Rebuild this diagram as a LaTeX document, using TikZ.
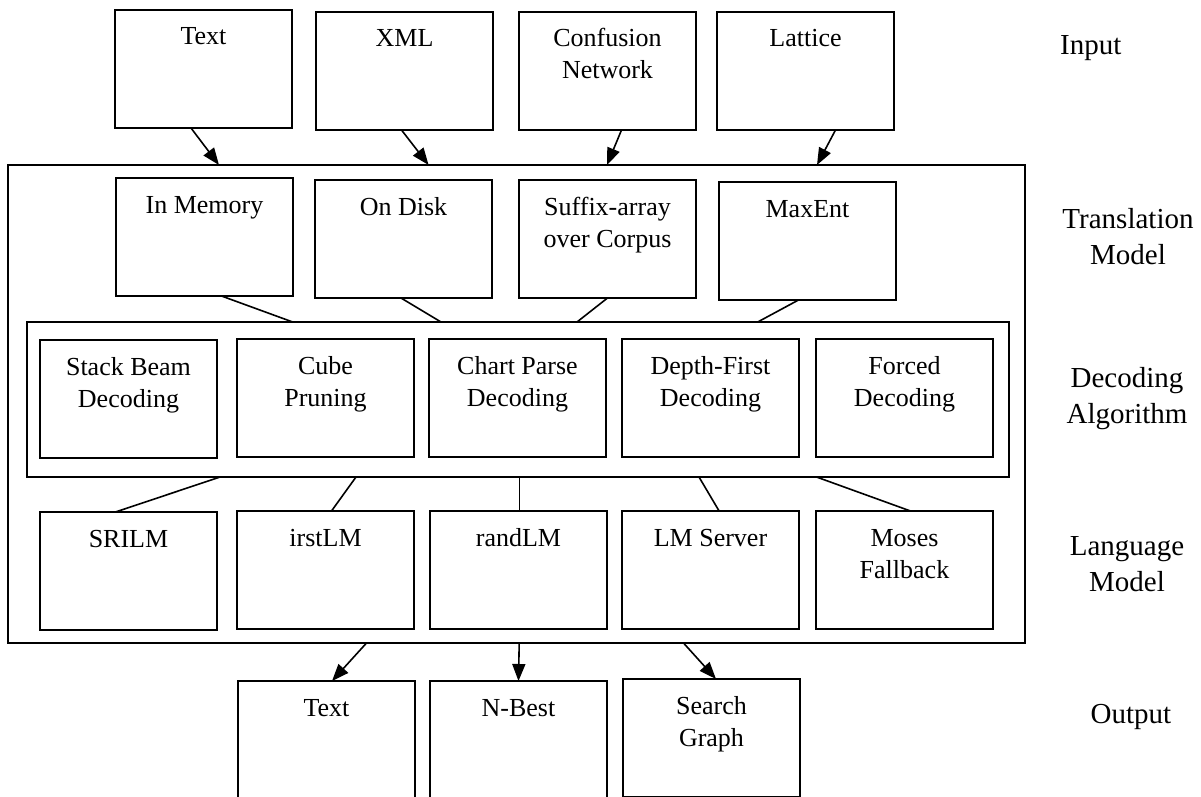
\documentclass[tikz,border=0pt]{standalone}
\usepackage{fontspec}
\setmainfont{Liberation Serif}
\usetikzlibrary{arrows.meta}

% text sizes for box contents and for the layer names on the right
\newcommand{\boxfont}{\fontsize{26}{32}\selectfont}
\newcommand{\sidefont}{\fontsize{29}{36}\selectfont}
% a component box: fixed size, text hung from the top edge
\newcommand{\cell}[1]{\begin{minipage}[c][118pt][t]{177pt}\centering\rule{0pt}{35pt}#1\end{minipage}}

\tikzset{
  cellbox/.style={draw, line width=1.8pt, inner sep=0pt, outer sep=0pt,
                  anchor=north west, font=\boxfont},
  framebox/.style={draw, line width=1.8pt, inner sep=0pt, outer sep=0pt,
                   anchor=north west},
  link/.style={line width=1.6pt},
  arr/.style={link, -{Triangle[length=17pt,width=13pt]}},
  side/.style={font=\sidefont, align=center, anchor=north, inner sep=0pt},
}

\begin{document}
\begin{tikzpicture}[x=1pt, y=-1pt]
\useasboundingbox (0,0) rectangle (1201,797);
\fill[white] (0,0) rectangle (1201,797);

% enclosing frames
\node[framebox, minimum width=1017pt, minimum height=478pt] (outer) at (8,165) {};
\node[framebox, minimum width=982pt, minimum height=155pt] (da) at (27,322) {};

% input formats
\node[cellbox] (in1) at (115,10)  {\cell{Text}};
\node[cellbox] (in2) at (316,12)  {\cell{XML}};
\node[cellbox] (in3) at (519,12)  {\cell{Confusion\\Network}};
\node[cellbox] (in4) at (717,12)  {\cell{Lattice}};

% translation models
\node[cellbox] (tm1) at (116,178) {\cell{In Memory}};
\node[cellbox] (tm2) at (315,180) {\cell{On Disk}};
\node[cellbox] (tm3) at (519,180) {\cell{Suffix-array\\over Corpus}};
\node[cellbox] (tm4) at (719,182) {\cell{MaxEnt}};

% decoding algorithms
\node[cellbox] (da1) at (40,340)  {\cell{Stack Beam\\Decoding}};
\node[cellbox] (da2) at (237,339) {\cell{Cube\\Pruning}};
\node[cellbox] (da3) at (429,339) {\cell{Chart Parse\\Decoding}};
\node[cellbox] (da4) at (622,339) {\cell{Depth-First\\Decoding}};
\node[cellbox] (da5) at (816,339) {\cell{Forced\\Decoding}};

% language models
\node[cellbox] (lm1) at (40,512)  {\cell{SRILM}};
\node[cellbox] (lm2) at (237,511) {\cell{irstLM}};
\node[cellbox] (lm3) at (430,511) {\cell{randLM}};
\node[cellbox] (lm4) at (622,511) {\cell{LM Server}};
\node[cellbox] (lm5) at (816,511) {\cell{Moses\\Fallback}};

% output formats
\node[cellbox] (out1) at (238,681) {\cell{Text}};
\node[cellbox] (out2) at (430,681) {\cell{N-Best}};
\node[cellbox] (out3) at (623,679) {\cell{Search\\Graph}};

% layer names
\node[side, anchor=north west] (lblin) at (1060,32) {\rule{0pt}{22pt}Input};
\node[side] (lbltm)  at (1128,206) {\rule{0pt}{22pt}Translation\\Model};
\node[side] (lblda)  at (1127,365) {\rule{0pt}{22pt}Decoding\\Algorithm};
\node[side] (lbllm)  at (1127,533) {\rule{0pt}{22pt}Language\\Model};
\node[side] (lblout) at (1131,701) {\rule{0pt}{22pt}Output};

% inputs feed the system
\draw[arr] ([xshift=-12.5pt]in1.south) -- ([xshift=211pt]outer.north west);
\draw[arr] ([xshift=-3pt]in2.south)    -- ([xshift=420.6pt]outer.north west);
\draw[arr] ([xshift=14pt]in3.south)    -- ([xshift=599pt]outer.north west);
\draw[arr] ([xshift=30pt]in4.south)    -- ([xshift=809pt]outer.north west);

% translation models to decoder
\draw[link] ([xshift=17pt]tm1.south)   -- ([xshift=265.7pt]da.north west);
\draw[link] ([xshift=-2.5pt]tm2.south) -- ([xshift=414pt]da.north west);
\draw[link] (tm3.south)                -- ([xshift=550pt]da.north west);
\draw[link] ([xshift=-9pt]tm4.south)   -- ([xshift=730.7pt]da.north west);

% decoder to language models
\draw[link] ([xshift=193pt]da.south west)   -- ([xshift=-13pt]lm1.north);
\draw[link] ([xshift=329pt]da.south west)   -- ([xshift=6pt]lm2.north);
\draw[link] ([xshift=492.5pt]da.south west) -- ([xshift=1pt]lm3.north);
\draw[link] ([xshift=672pt]da.south west)   -- ([xshift=8.6pt]lm4.north);
\draw[link] ([xshift=789.5pt]da.south west) -- ([xshift=6pt]lm5.north);

% system produces outputs
\draw[arr] ([xshift=358.5pt]outer.south west) -- ([xshift=5.5pt]out1.north);
\draw[arr] ([xshift=511.2pt]outer.south west) -- (out2.north);
\draw[arr] ([xshift=675.5pt]outer.south west) -- ([xshift=4.5pt]out3.north);
\end{tikzpicture}
\end{document}
